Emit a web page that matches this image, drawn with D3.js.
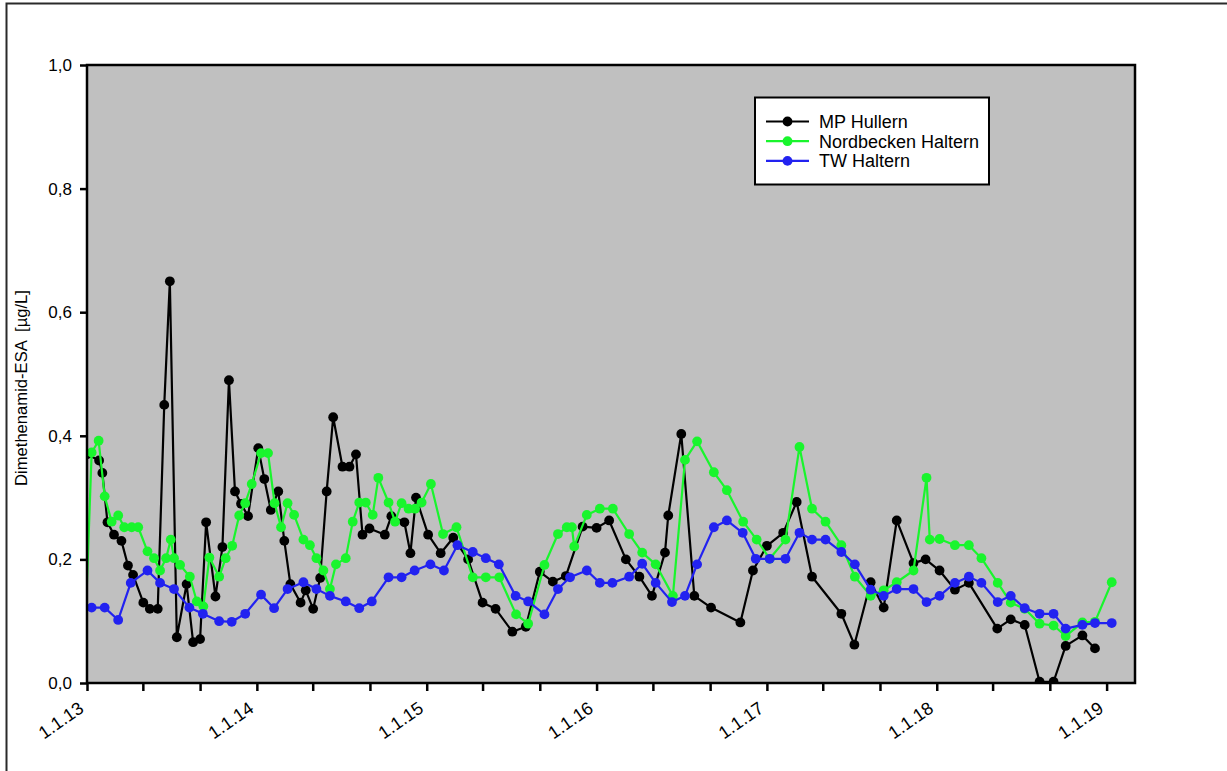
<!DOCTYPE html>
<html>
<head>
<meta charset="utf-8">
<script src="https://cdn.jsdelivr.net/npm/d3@7"></script>
<style>
  html, body { margin: 0; padding: 0; background: #ffffff; }
  svg { display: block; font-family: "Liberation Sans", Arial, sans-serif; }
</style>
</head>
<body>
<svg id="chart" width="1227" height="771"></svg>
<script>
// ---------- DATA ----------
const seriesNames = ["MP Hullern", "Nordbecken Haltern", "TW Haltern"];
const seriesColors = ["#000000", "#19f52d", "#2222f0"];

const mpHullernDates = [
  "2013-01-01","2013-01-27","2013-02-03","2013-02-14","2013-02-28","2013-03-16","2013-03-30","2013-04-10",
  "2013-05-02","2013-05-16","2013-06-02","2013-06-16","2013-06-28","2013-07-13","2013-08-03","2013-08-17",
  "2013-09-01","2013-09-14","2013-10-04","2013-10-19","2013-11-02","2013-11-15","2013-11-28","2013-12-13",
  "2014-01-04","2014-01-17","2014-01-31","2014-02-16","2014-03-01","2014-03-14","2014-04-05","2014-04-16",
  "2014-05-02","2014-05-17","2014-05-31","2014-06-14","2014-07-04","2014-07-19","2014-08-02","2014-08-16",
  "2014-08-31","2014-10-03","2014-10-17","2014-11-14","2014-11-27","2014-12-09",
  "2015-01-04","2015-01-31","2015-02-27","2015-03-31","2015-05-01","2015-05-29","2015-07-04","2015-08-02",
  "2015-09-01","2015-09-29","2015-10-27","2015-12-02",
  "2016-01-01","2016-01-28","2016-03-04","2016-04-02","2016-04-29","2016-05-27","2016-06-03","2016-07-01",
  "2016-07-29","2016-09-03","2016-11-05","2016-12-02",
  "2017-01-01","2017-02-05","2017-03-06","2017-04-08","2017-06-10","2017-07-08","2017-08-12","2017-09-09",
  "2017-10-07","2017-11-12","2017-12-08",
  "2018-01-07","2018-02-09","2018-03-11","2018-05-11","2018-06-09","2018-07-09","2018-08-10","2018-09-09",
  "2018-10-05","2018-11-10","2018-12-07"
];
const mpHullernValues = [
  0.37,0.36,0.34,0.26,0.24,0.23,0.19,0.175,
  0.13,0.12,0.12,0.45,0.65,0.074,0.16,0.066,
  0.071,0.26,0.14,0.22,0.49,0.31,0.29,0.27,
  0.38,0.33,0.28,0.31,0.23,0.16,0.13,0.15,
  0.12,0.17,0.31,0.43,0.35,0.35,0.37,0.24,
  0.25,0.24,0.27,0.26,0.21,0.30,
  0.24,0.21,0.235,0.20,0.13,0.12,0.083,0.091,
  0.18,0.164,0.173,0.253,
  0.251,0.263,0.20,0.172,0.141,0.211,0.271,0.403,
  0.141,0.122,0.098,0.182,
  0.222,0.243,0.293,0.172,0.112,0.062,0.163,0.122,
  0.263,0.194,0.20,
  0.182,0.151,0.162,0.088,0.103,0.094,0.002,0.002,
  0.060,0.077,0.056
];

const nordbeckenDates = [
  "2012-12-28",
  "2013-01-11","2013-01-26","2013-02-08","2013-02-23","2013-03-09","2013-03-22","2013-04-07","2013-04-21",
  "2013-05-11","2013-05-25","2013-06-07","2013-06-20","2013-06-30","2013-07-07","2013-07-20","2013-08-10",
  "2013-08-25","2013-09-08","2013-09-21","2013-10-12","2013-10-26","2013-11-09","2013-11-24","2013-12-07",
  "2013-12-21",
  "2014-01-10","2014-01-25","2014-02-08","2014-02-22","2014-03-08","2014-03-22","2014-04-11","2014-04-25",
  "2014-05-09","2014-05-24","2014-06-07","2014-06-20","2014-07-11","2014-07-26","2014-08-09","2014-08-23",
  "2014-09-07","2014-09-19","2014-10-11","2014-10-25","2014-11-08","2014-11-23","2014-12-07","2014-12-21",
  "2015-01-10","2015-02-05","2015-03-06","2015-04-10","2015-05-08","2015-06-06","2015-07-12","2015-08-07",
  "2015-09-11","2015-10-10","2015-10-29","2015-11-09","2015-11-14","2015-12-11",
  "2016-01-08","2016-02-05","2016-03-11","2016-04-08","2016-05-07","2016-06-13","2016-07-09","2016-08-04",
  "2016-09-09","2016-10-07","2016-11-11","2016-12-10",
  "2017-01-07","2017-02-10","2017-03-12","2017-04-08","2017-05-07","2017-06-10","2017-07-09","2017-08-12",
  "2017-09-09","2017-10-07","2017-11-12","2017-12-10","2017-12-17",
  "2018-01-07","2018-02-09","2018-03-11","2018-04-07","2018-05-12","2018-06-09","2018-07-09","2018-08-10",
  "2018-09-09","2018-10-05","2018-11-10","2018-12-07",
  "2019-01-12"
];
const nordbeckenValues = [
  0.08,
  0.373,0.392,0.302,0.261,0.271,0.252,0.252,0.252,
  0.213,0.202,0.182,0.202,0.232,0.202,0.191,0.172,
  0.132,0.124,0.203,0.172,0.202,0.222,0.271,0.291,
  0.322,
  0.372,0.372,0.291,0.252,0.291,0.272,0.232,0.223,
  0.202,0.182,0.152,0.192,0.202,0.261,0.292,0.292,
  0.272,0.332,0.292,0.261,0.291,0.282,0.282,0.292,
  0.322,0.241,0.252,0.171,0.171,0.171,0.111,0.096,
  0.191,0.241,0.252,0.252,0.221,0.272,
  0.282,0.282,0.241,0.211,0.192,0.141,0.361,0.391,
  0.341,0.312,0.261,0.232,
  0.201,0.232,0.382,0.282,0.261,0.223,0.172,0.141,
  0.15,0.163,0.182,0.332,0.232,
  0.233,0.223,0.223,0.202,0.162,0.130,0.12,0.096,
  0.093,0.076,0.098,0.099,
  0.163
];

const twHalternDates = [
  "2013-01-11","2013-02-08","2013-03-09","2013-04-05","2013-05-11","2013-06-07","2013-07-07","2013-08-09",
  "2013-09-07","2013-10-12","2013-11-08","2013-12-07",
  "2014-01-10","2014-02-07","2014-03-08","2014-04-11","2014-05-09","2014-06-07","2014-07-11","2014-08-09",
  "2014-09-05","2014-10-11","2014-11-08","2014-12-06",
  "2015-01-09","2015-02-07","2015-03-08","2015-04-10","2015-05-08","2015-06-05","2015-07-11","2015-08-07",
  "2015-09-11","2015-10-10","2015-11-05","2015-12-11",
  "2016-01-08","2016-02-04","2016-03-11","2016-04-08","2016-05-07","2016-06-11","2016-07-09","2016-08-04",
  "2016-09-09","2016-10-07","2016-11-10","2016-12-08",
  "2017-01-07","2017-02-10","2017-03-12","2017-04-08","2017-05-07","2017-06-10","2017-07-09","2017-08-12",
  "2017-09-09","2017-10-07","2017-11-12","2017-12-10",
  "2018-01-07","2018-02-09","2018-03-11","2018-04-07","2018-05-12","2018-06-09","2018-07-09","2018-08-10",
  "2018-09-09","2018-10-05","2018-11-10","2018-12-07",
  "2019-01-12"
];
const twHalternValues = [
  0.122,0.122,0.102,0.162,0.182,0.162,0.152,0.122,
  0.112,0.100,0.099,0.112,
  0.143,0.121,0.152,0.163,0.152,0.141,0.132,0.121,
  0.132,0.171,0.171,0.182,
  0.192,0.182,0.223,0.212,0.202,0.192,0.141,0.132,
  0.111,0.152,0.171,0.182,
  0.162,0.162,0.172,0.193,0.162,0.131,0.141,0.192,
  0.252,0.263,0.243,0.201,
  0.201,0.201,0.243,0.232,0.232,0.212,0.192,0.151,
  0.141,0.152,0.152,0.131,
  0.141,0.162,0.172,0.162,0.131,0.141,0.121,0.112,
  0.112,0.088,0.094,0.097,
  0.097
];

const yTickValues = [0, 0.2, 0.4, 0.6, 0.8, 1.0];
const xLabelYears = ["2013","2014","2015","2016","2017","2018","2019"];
const xDomain = ["2013-01-01", "2019-03-03"];
const yLabel = "Dimethenamid-ESA  [µg/L]";

// ---------- CHART ----------
const parse = d3.timeParse("%Y-%m-%d");
const svg = d3.select("#chart");
const plot = { left: 87, top: 65, right: 1135, bottom: 683 };

// outer frame
svg.append("rect").attr("x", 6.5).attr("y", 3.5).attr("width", 1300).attr("height", 900)
  .attr("fill", "#ffffff").attr("stroke", "#2a2a2a").attr("stroke-width", 2);

const x = d3.scaleTime().domain(xDomain.map(parse)).range([plot.left, plot.right]);
const y = d3.scaleLinear().domain([0, 1]).range([plot.bottom, plot.top]);

svg.append("defs").append("clipPath").attr("id", "clip")
  .append("rect").attr("x", plot.left).attr("y", plot.top)
  .attr("width", plot.right - plot.left).attr("height", plot.bottom - plot.top);

// plot background
svg.append("rect").attr("x", plot.left).attr("y", plot.top)
  .attr("width", plot.right - plot.left).attr("height", plot.bottom - plot.top)
  .attr("fill", "#c0c0c0");

const series = [
  { name: seriesNames[0], color: seriesColors[0], dates: mpHullernDates, values: mpHullernValues },
  { name: seriesNames[1], color: seriesColors[1], dates: nordbeckenDates, values: nordbeckenValues },
  { name: seriesNames[2], color: seriesColors[2], dates: twHalternDates, values: twHalternValues }
];

const domainStart = parse(xDomain[0]);
const line = d3.line().x(d => x(d.date)).y(d => y(d.value));
const gData = svg.append("g").attr("clip-path", "url(#clip)");
series.forEach(s => {
  const pts = s.dates.map((d, i) => ({ date: parse(d), value: s.values[i] }));
  gData.append("path").datum(pts).attr("d", line)
    .attr("fill", "none").attr("stroke", s.color).attr("stroke-width", 2.2)
    .attr("stroke-linejoin", "round");
  gData.selectAll(null).data(pts.filter(p => p.date >= domainStart)).enter().append("circle")
    .attr("cx", d => x(d.date)).attr("cy", d => y(d.value)).attr("r", 4.9)
    .attr("fill", s.color);
});

// plot border
svg.append("rect").attr("x", plot.left).attr("y", plot.top)
  .attr("width", plot.right - plot.left).attr("height", plot.bottom - plot.top)
  .attr("fill", "none").attr("stroke", "#000").attr("stroke-width", 2.5);

// y axis
const yAxis = d3.axisLeft(y).tickValues(yTickValues).tickSize(7).tickPadding(8)
  .tickFormat(d => d3.format(".1f")(d).replace(".", ","));
const gy = svg.append("g").attr("transform", `translate(${plot.left},0)`).call(yAxis);
gy.select(".domain").remove();
gy.selectAll("line").attr("stroke", "#000").attr("stroke-width", 2.5);
gy.selectAll("text").attr("font-size", 17).attr("fill", "#000")
  .attr("font-family", "Liberation Sans, Arial, sans-serif");

// x axis: ticks every 4 months, labels at year starts
const xAxis = d3.axisBottom(x).ticks(d3.timeMonth.every(4)).tickSize(8).tickFormat("");
const gx = svg.append("g").attr("transform", `translate(0,${plot.bottom})`).call(xAxis);
gx.select(".domain").remove();
gx.selectAll("line").attr("stroke", "#000").attr("stroke-width", 2.5);

const fmtLabel = d3.timeFormat("%-d.%-m.%y");
svg.append("g").selectAll("text").data(xLabelYears.map(yr => parse(yr + "-01-01"))).enter()
  .append("text")
  .attr("transform", d => `translate(${x(d) - 2},${plot.bottom + 28}) rotate(-35)`)
  .attr("text-anchor", "end")
  .attr("font-size", 18).attr("fill", "#000")
  .text(d => fmtLabel(d));

// y label
svg.append("text")
  .attr("transform", `translate(27,${388}) rotate(-90)`)
  .attr("text-anchor", "middle").attr("font-size", 16.6).attr("fill", "#000")
  .style("white-space", "pre")
  .text(yLabel);

// legend
const lg = svg.append("g");
lg.append("rect").attr("x", 755).attr("y", 97.5).attr("width", 234).attr("height", 87)
  .attr("fill", "#ffffff").attr("stroke", "#000").attr("stroke-width", 2);
series.forEach((s, i) => {
  const ly = 121.5 + i * 19.7;
  lg.append("line").attr("x1", 766).attr("x2", 809).attr("y1", ly).attr("y2", ly)
    .attr("stroke", s.color).attr("stroke-width", 2.2);
  lg.append("circle").attr("cx", 787.5).attr("cy", ly).attr("r", 4.9).attr("fill", s.color);
  lg.append("text").attr("x", 819).attr("y", ly + 6.5).attr("font-size", 18).attr("fill", "#000")
    .text(s.name);
});
</script>
</body>
</html>
